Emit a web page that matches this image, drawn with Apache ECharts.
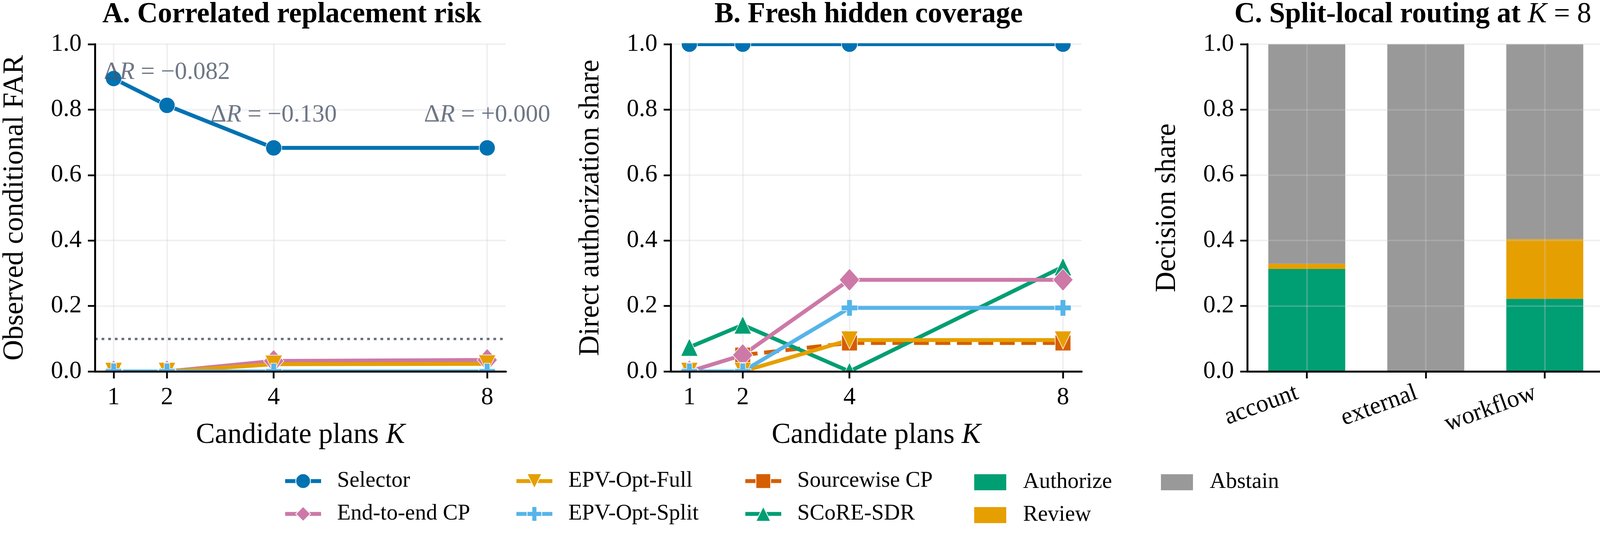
<!DOCTYPE html>
<html>
<head>
<meta charset="utf-8">
<title>Correlated replacement risk / coverage / routing</title>
<script src="https://cdn.jsdelivr.net/npm/echarts@6.0.0/dist/echarts.min.js"></script>
<style>
  html, body { margin: 0; padding: 0; background: #fff; }
  #chart { width: 4147px; height: 1394px; }
</style>
</head>
<body>
<div id="chart"></div>
<script>
// ---- data ----
var planK = [1, 2, 4, 8];

// A. observed conditional FAR
var selectorFar = [0.895, 0.813, 0.683, 0.683];
var endToEndFar = [0.0, 0.0, 0.032, 0.035];
var epvFullFar = [0.0, 0.0, 0.022, 0.023];
var epvSplitFar = [0.0, 0.0, 0.0, 0.0];
var alphaLevel = 0.1;
var deltaK = [2, 4, 8];
var deltaText = ['\u22120.082', '\u22120.130', '+0.000'];

// B. direct authorization share
var selectorCov = [1.0, 1.0, 1.0, 1.0];
var sourcewiseCov = [null, 0.05, 0.087, 0.087];
var scoreCov = [0.074, 0.142, 0.0, 0.32];
var endToEndCov = [0.0, 0.05, 0.28, 0.28];
var epvFullCov = [0.0, 0.0, 0.096, 0.096];
var epvSplitCov = [0.0, 0.0, 0.194, 0.194];

// C. decision shares at K = 8
var splits = ['account', 'external', 'workflow'];
var authorizeShare = [0.313, 0.0, 0.222];
var reviewShare = [0.016, 0.0, 0.182];
var abstainShare = [0.671, 1.0, 0.596];

// ---- styling ----
var FONT = 'Liberation Serif';
var C_SEL = '#0072B2', C_E2E = '#CC79A7', C_FULL = '#E69F00', C_SPLIT = '#56B4E9',
    C_SRC = '#D55E00', C_SCORE = '#009E73', C_ABST = '#999999';
var PLUS = 'path://M-1,-3L1,-3L1,-1L3,-1L3,1L1,1L1,3L-1,3L-1,1L-3,1L-3,-1L-1,-1Z';
var GRIDLINE = { color: 'rgba(205,205,212,0.3)', width: 4 };

var grids = [
    { left: 243, top: 113, width: 1052, height: 837 },   // A
    { left: 1717, top: 113, width: 1052, height: 837 },  // B
    { left: 3193, top: 113, width: 914, height: 837 }    // C
];

function pts(ys) {
    return planK.map(function (k, i) { return [k, ys[i] == null ? '-' : ys[i]]; });
}

function line(name, ys, color, panel, symbol, size, extra) {
    var s = {
        type: 'line', name: name,
        xAxisIndex: panel * 2, yAxisIndex: panel * 2,
        data: pts(ys),
        symbol: symbol, symbolSize: size, symbolRotate: 0,
        showSymbol: true, clip: true,
        lineStyle: { color: color, width: 10 },
        itemStyle: { color: color, borderColor: '#fff', borderWidth: 1.5 },
        emphasis: { disabled: true },
        animation: false
    };
    for (var k in extra) s[k] = extra[k];
    return s;
}

var MK = {
    sel: ['circle', 41],
    e2e: ['diamond', [52, 58]],
    full: ['triangle', [44, 46]],
    split: [PLUS, 42],
    src: ['rect', 40],
    score: ['triangle', [44, 46]]
};

function axLine() { return { show: true, onZero: false, lineStyle: { color: '#000', width: 5 } }; }
function axTick(custom) {
    var t = { show: true, inside: false, length: 18, lineStyle: { color: '#000', width: 4.5 } };
    if (custom) t.customValues = custom;
    return t;
}

// x axes for panels A and B: one carrying the faint grid (under the lines),
// one on a top layer carrying spine, ticks and labels
function kAxes(panel) {
    var base = { type: 'value', gridIndex: panel, position: 'bottom', offset: 0, min: 0.65, max: 8.35 };
    var under = Object.assign({}, base, {
        z: 0,
        axisLine: { show: false, onZero: false }, axisTick: { show: false, customValues: planK },
        axisLabel: { show: false, customValues: planK },
        splitLine: { show: true, lineStyle: GRIDLINE }
    });
    var over = Object.assign({}, base, {
        zlevel: 1, z: 10,
        axisLine: axLine(),
        axisTick: axTick(planK),
        axisLabel: { show: true, customValues: planK, margin: 36, fontFamily: FONT, fontSize: 63, color: '#000',
            formatter: function (v) { return String(v); } },
        splitLine: { show: false },
        name: 'Candidate plans {k|K}', nameLocation: 'middle', nameGap: 127,
        nameTextStyle: { fontFamily: FONT, fontSize: 73, color: '#000',
            rich: { k: { fontFamily: FONT, fontSize: 73, fontStyle: 'italic', color: '#000' } } }
    });
    return [under, over];
}

function shareAxis(panel, title, gridOver) {
    return {
        type: 'value', gridIndex: panel, position: 'left', offset: 0, min: 0, max: 1, interval: 0.2,
        zlevel: 1, z: 10,
        axisLine: axLine(),
        axisTick: axTick(),
        axisLabel: { show: true, margin: 34, fontFamily: FONT, fontSize: 63, color: '#000',
            formatter: function (v) { return v.toFixed(1); } },
        splitLine: { show: !!gridOver, lineStyle: GRIDLINE },
        name: title, nameLocation: 'middle', nameGap: 168,
        nameTextStyle: { fontFamily: FONT, fontSize: 73, color: '#000' }
    };
}

function gridOnlyAxis(panel) {
    return {
        type: 'value', gridIndex: panel, position: 'left', min: 0, max: 1, interval: 0.2, z: 0,
        axisLine: { show: false, onZero: false }, axisTick: { show: false }, axisLabel: { show: false },
        splitLine: { show: true, lineStyle: GRIDLINE }
    };
}

var splitIdx = splits.map(function (s, i) { return i; });

var xAxes = [].concat(kAxes(0), kAxes(1), [
    {   // C category axis: bars, spine, ticks and labels (drawn over the bars)
        type: 'category', gridIndex: 2, position: 'bottom', data: splits, boundaryGap: true,
        zlevel: 1, z: 10,
        axisLine: axLine(),
        axisTick: { show: true, alignWithLabel: true, length: 18, lineStyle: { color: '#000', width: 4.5 } },
        axisLabel: { show: true, interval: 0, rotate: 20, margin: 78,
            align: 'right', verticalAlign: 'bottom', padding: [0, 14, 0, 0],
            fontFamily: FONT, fontSize: 63, color: '#000' },
        splitLine: { show: false }
    },
    {   // C vertical grid lines through the bar centres, over the bars
        type: 'value', gridIndex: 2, position: 'bottom', min: -0.5, max: 2.5, zlevel: 1, z: 9,
        axisLine: { show: false, onZero: false },
        axisTick: { show: false, customValues: splitIdx },
        axisLabel: { show: false, customValues: splitIdx },
        splitLine: { show: true, lineStyle: GRIDLINE }
    }
]);

var yAxes = [
    gridOnlyAxis(0), shareAxis(0, 'Observed conditional FAR'),
    gridOnlyAxis(1), shareAxis(1, 'Direct authorization share'),
    shareAxis(2, 'Decision share', true)
];

function bar(name, vals, color) {
    return {
        type: 'bar', name: name, stack: 'share',
        xAxisIndex: 4, yAxisIndex: 4,
        data: vals,
        barWidth: 197,
        itemStyle: { color: color },
        emphasis: { disabled: true },
        animation: false, z: 2
    };
}

var series = [
    // panel A
    line('Selector', selectorFar, C_SEL, 0, MK.sel[0], MK.sel[1], {
        markLine: {
            silent: true, symbol: 'none', label: { show: false }, animation: false,
            lineStyle: { color: '#6b7280', width: 6, type: [7, 10] },
            data: [{ yAxis: alphaLevel }]
        }
    }),
    line('End-to-end CP', endToEndFar, C_E2E, 0, MK.e2e[0], MK.e2e[1]),
    line('EPV-Opt-Full', epvFullFar, C_FULL, 0, MK.full[0], MK.full[1], { symbolRotate: 180 }),
    line('EPV-Opt-Split', epvSplitFar, C_SPLIT, 0, MK.split[0], MK.split[1]),
    {
        type: 'scatter', name: 'delta', xAxisIndex: 0, yAxisIndex: 0,
        data: deltaK.map(function (k, i) {
            return [k, selectorFar[planK.indexOf(k)] + 0.1, deltaText[i]];
        }),
        symbolSize: 1, itemStyle: { color: 'rgba(0,0,0,0)' }, clip: false, z: 4,
        silent: true, animation: false,
        label: {
            show: true, position: 'inside',
            formatter: function (p) { return '\u0394{r|R} = ' + p.value[2]; },
            fontFamily: FONT, fontSize: 63, color: '#4a5568',
            rich: { r: { fontFamily: FONT, fontSize: 63, fontStyle: 'italic', color: '#4a5568' } }
        }
    },
    // panel B
    line('Selector', selectorCov, C_SEL, 1, MK.sel[0], MK.sel[1]),
    line('Sourcewise CP', sourcewiseCov, C_SRC, 1, MK.src[0], MK.src[1], {
        lineStyle: { color: C_SRC, width: 10, type: [38, 17] }
    }),
    line('SCoRE-SDR', scoreCov, C_SCORE, 1, MK.score[0], MK.score[1]),
    line('End-to-end CP', endToEndCov, C_E2E, 1, MK.e2e[0], MK.e2e[1]),
    line('EPV-Opt-Full', epvFullCov, C_FULL, 1, MK.full[0], MK.full[1], { symbolRotate: 180 }),
    line('EPV-Opt-Split', epvSplitCov, C_SPLIT, 1, MK.split[0], MK.split[1]),
    // panel C
    bar('Authorize', authorizeShare, C_SCORE),
    bar('Review', reviewShare, C_FULL),
    bar('Abstain', abstainShare, C_ABST)
];

function legendCol(left, names, isBar) {
    return {
        orient: 'vertical', left: left, top: isBar ? 1200 : 1197,
        itemWidth: isBar ? 82 : 92, itemHeight: isBar ? 41 : 47, itemGap: 27,
        icon: isBar ? 'rect' : undefined,
        selectedMode: false,
        lineStyle: { width: 10 },
        data: names,
        textStyle: { fontFamily: FONT, fontSize: 57, color: '#000', padding: [0, 0, 0, isBar ? 38 : 36] }
    };
}

function titleText(id, x, rich) {
    return {
        id: id, type: 'text', x: x, y: 38, silent: true,
        style: {
            text: rich, align: 'left', verticalAlign: 'middle',
            rich: {
                b: { fontFamily: FONT, fontSize: 73, fontWeight: 'bold', fill: '#000' },
                k: { fontFamily: FONT, fontSize: 73, fontStyle: 'italic', fill: '#000' },
                m: { fontFamily: FONT, fontSize: 73, fill: '#000' }
            }
        }
    };
}

function mask(id, x, y, w, h) {
    return { id: id, type: 'rect', zlevel: 1, z: 5, silent: true,
        shape: { x: x, y: y, width: w, height: h }, style: { fill: '#fff' } };
}

var chart = echarts.init(document.getElementById('chart'), null, { renderer: 'canvas' });
chart.setOption({
    backgroundColor: '#fff',
    animation: false,
    grid: grids.map(function (g) {
        return Object.assign({ containLabel: false, outerBoundsMode: 'none' }, g);
    }),
    xAxis: xAxes,
    yAxis: yAxes,
    legend: [
        legendCol(720, ['Selector', 'End-to-end CP']),
        legendCol(1312, ['EPV-Opt-Full', 'EPV-Opt-Split']),
        legendCol(1898, ['Sourcewise CP', 'SCoRE-SDR']),
        legendCol(2489, ['Authorize', 'Review'], true),
        legendCol(2967, ['Abstain'], true)
    ],
    graphic: [
        titleText('tA', 262, '{b|A. Correlated replacement risk}'),
        titleText('tB', 1829, '{b|B. Fresh hidden coverage}'),
        titleText('tC', 3160, '{b|C. Split-local routing at }{k|K}{m| = 8}'),
        // white masks on a layer above the lines so markers on the plot edge look clipped
        mask('mA', 200, 953, 1140, 48),
        mask('mB', 1690, 953, 1110, 48),
        mask('mBt', 1721, 84, 1080, 26.5)
    ],
    series: series
});
</script>
</body>
</html>
